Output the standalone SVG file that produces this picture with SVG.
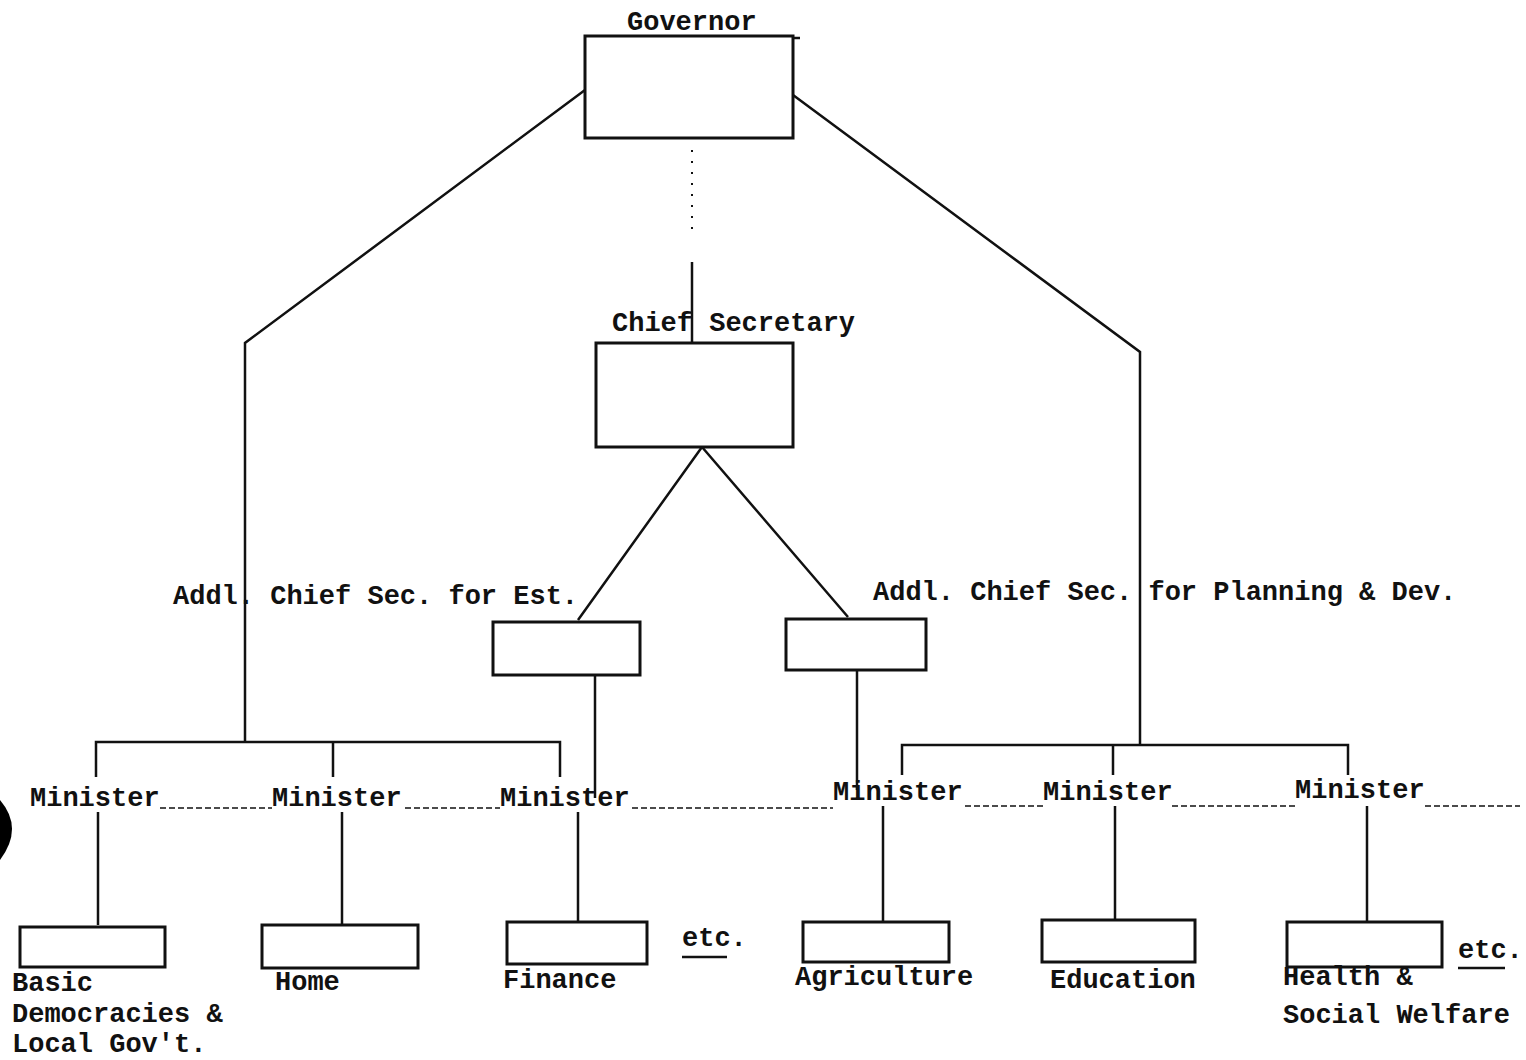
<svg xmlns="http://www.w3.org/2000/svg" width="1526" height="1060" viewBox="0 0 1526 1060">
<style>
.t{font-family:"Liberation Mono","DejaVu Sans Mono",monospace;font-weight:bold;font-size:27px;fill:#111}
.b{fill:none;stroke:#111;stroke-width:3}
.c{fill:none;stroke:#111;stroke-width:2.5}
.d{fill:none;stroke:#111;stroke-width:1.6;stroke-dasharray:6 3}
.dot{fill:none;stroke:#111;stroke-width:2;stroke-dasharray:2 9}
</style>
<rect width="1526" height="1060" fill="#fff"/>
<g id="connectors">
<path class="dot" d="M692 150V232"/>
<path class="c" d="M692 262V343"/>
<path class="c" d="M585 90L245 343V742"/>
<path class="c" d="M793 95L1140 352V745"/>
<path class="c" d="M96 777V742H560V777M333 742V777"/>
<path class="c" d="M902 775V745H1348V775M1113 745V775"/>
<path class="c" d="M702 447L578 620M702 447L848 617"/>
<path class="c" d="M595 675V798"/>
<path class="c" d="M857 670V790"/>
<path class="c" d="M98 812V925M342 812V925M578 812V922M883 806V922M1115 806V920M1367 806V922"/>
<path class="d" d="M160 808H272M405 808H500M632 808H833M965 806H1043M1172 806H1295M1425 806H1520"/>
<path class="c" d="M682 957H727M1458 968H1505"/>
</g>
<g id="governor"><rect class="b" x="585" y="36" width="208" height="102"/><path class="c" d="M793 38H800"/><text class="t" x="627" y="30">Governor</text></g>
<g id="chief-secretary"><rect class="b" x="596" y="343" width="197" height="104"/><text class="t" x="612" y="331">Chief Secretary</text></g>
<g id="addl-est"><rect class="b" x="493" y="622" width="147" height="53"/><text class="t" x="173" y="604">Addl. Chief Sec. for Est.</text></g>
<g id="addl-plan"><rect class="b" x="786" y="619" width="140" height="51"/><text class="t" x="873" y="600">Addl. Chief Sec. for Planning &amp; Dev.</text></g>
<g id="min1"><text class="t" x="30" y="806">Minister</text></g>
<g id="min2"><text class="t" x="272" y="806">Minister</text></g>
<g id="min3"><text class="t" x="500" y="806">Minister</text></g>
<g id="min4"><text class="t" x="833" y="800">Minister</text></g>
<g id="min5"><text class="t" x="1043" y="800">Minister</text></g>
<g id="min6"><text class="t" x="1295" y="798">Minister</text></g>
<g id="basic"><rect class="b" x="20" y="927" width="145" height="40"/><text class="t" x="12" y="991">Basic</text><text class="t" x="12" y="1022">Democracies &amp;</text><text class="t" x="12" y="1052">Local Gov't.</text></g>
<g id="home"><rect class="b" x="262" y="925" width="156" height="43"/><text class="t" x="275" y="990">Home</text></g>
<g id="finance"><rect class="b" x="507" y="922" width="140" height="42"/><text class="t" x="503" y="988">Finance</text><text class="t" x="682" y="946">etc.</text></g>
<g id="agriculture"><rect class="b" x="803" y="922" width="146" height="40"/><text class="t" x="795" y="985">Agriculture</text></g>
<g id="education"><rect class="b" x="1042" y="920" width="153" height="42"/><text class="t" x="1050" y="988">Education</text></g>
<g id="health"><rect class="b" x="1287" y="922" width="155" height="45"/><text class="t" x="1283" y="985">Health &amp;</text><text class="t" x="1283" y="1023">Social Welfare</text><text class="t" x="1458" y="958">etc.</text></g>
<path d="M0 800Q24 828 0 860Z" fill="#000"/>
</svg>
